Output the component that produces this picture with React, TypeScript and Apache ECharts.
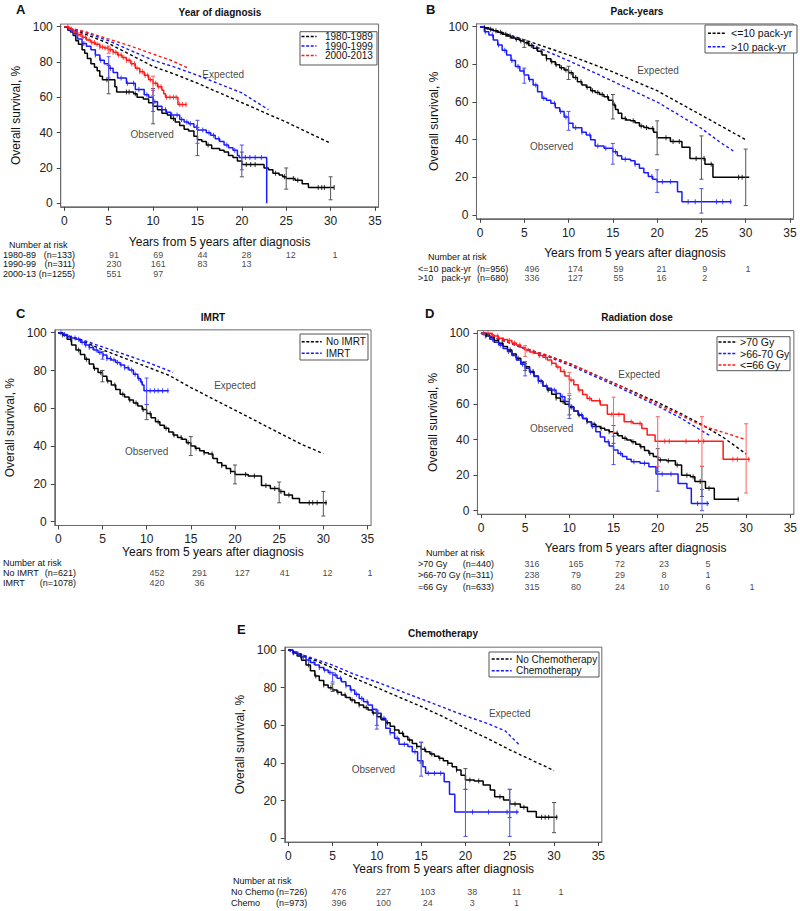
import React, { useEffect, useRef } from "react";
import * as echarts from "echarts";

const FONT = 'Arial, "Liberation Sans", Helvetica, sans-serif';
const BLACK = "#000000";
const BLUE = "#1a1aff";
const RED = "#ff1a1a";
const CI_BLACK = "#555555";
const CI_BLUE = "#5050ff";
const CI_RED = "#ff6060";

const X_TICKS = [0, 5, 10, 15, 20, 25, 30, 35];
const Y_TICKS = [0, 20, 40, 60, 80, 100];
const RISK_COLS = ["5", "10", "15", "20", "25", "30"];
const X_TITLE = "Years from 5 years after diagnosis";
const Y_TITLE = "Overall survival, %";
const X_MIN = -0.4, X_MAX = 35.4, Y_MIN = -2, Y_MAX = 101.5;

// ---------- Panel A: Year of diagnosis ----------
const obsA_80 = [[0,100],[0.4,98],[0.7,97],[1,95],[1.3,92],[1.6,90],[2,87],[2.3,85],[2.6,82],[3,79],[3.4,77],[3.7,75],[4,72],[4.3,70],[5.7,66],[5.9,63],[7.8,62],[8.2,60],[8.9,59],[9.5,57],[10,55],[10.5,53],[11,51],[11.6,50],[12,48],[12.5,46],[13,44],[13.5,42],[14,41],[14.6,38],[15,36],[15.5,35],[16,33],[16.6,31],[17.5,30],[18,29],[18.5,27],[19,26],[19.5,24],[20,22],[22.5,20],[23,19],[23.5,17],[24.2,16],[24.6,15],[25,14],[26,13],[26.8,11],[27.5,9],[30.4,9]];
const obsA_90 = [[0,100],[0.5,98],[1,96],[1.5,93],[2,90.5],[2.5,89],[3,87],[3.5,84],[4,81],[4.5,79],[5,76.5],[5.5,74],[6,71],[7,68],[8,64.5],[9,61.5],[9.5,60],[10,57.5],[10.5,55],[11,53],[11.5,51.5],[12,50],[13,47.5],[13.5,46],[14,45],[14.6,43],[15,41.5],[16,40],[16.5,38.5],[17,36.5],[17.5,35],[18,33],[18.5,31.5],[19,30],[19.5,27],[19.7,26],[22.8,0]];
const obsA_00 = [[0,100],[0.5,98.5],[1,97],[1.5,95.5],[2,94],[2.5,92.5],[3,91],[3.5,90],[4,88.5],[4.5,88],[5,87],[5.5,85.5],[6,84],[6.5,82.5],[7,81],[7.5,79],[8,76.5],[8.5,74.5],[9,72.5],[9.5,70],[10,68],[10.5,66],[11,64],[11.2,62],[11.4,60],[12.8,56],[13.8,56]];
const expA_80 = [[0,100],[2.5,95.5],[5,90.5],[7.5,84],[10,77.5],[12.5,73],[15,68],[17.5,62.5],[20,57],[22.5,51.5],[25,46],[27.5,40],[30,34]];
const expA_90 = [[0,100],[2.5,96.5],[5,92],[7.5,86.5],[10,81],[12.5,77],[15,72.5],[17.5,67.5],[20,62.5],[23,53]];
const expA_00 = [[0,100],[2.5,97],[5,93],[7.5,89],[10,84.5],[12,81],[14,76.5]];
const ciA_80 = [[5,62,78],[10,45,65],[15,27,43],[20,15,29],[25,8,20],[30,2,15]];
const ciA_90 = [[5,71,83],[10,52,64],[15,34,47],[20,19,33]];
const ciA_00 = [[5,85,89],[10,61,72]];
const censA_80 = [4.8,7.0,7.3,8.0,12.3,16.2,20.5,21,21.5,23.8,24.8,25.8,26.3,28.6,29.0,29.3,30.4];
const censA_90 = [1.3,2.2,3.5,4.1,5.2,6.4,7.1,7.8,8.4,9.3,10.2,11.4,12.1,12.7,13.2,13.8,14.2,14.9,15.6,16.3,16.8,17.4,18.3,19.2,20.4,20.9,21.5,22.2];
const censA_00 = [0.4,0.8,1.1,1.5,1.8,2.1,2.4,2.8,3.1,3.4,3.7,4.0,4.3,4.6,4.9,5.2,5.5,5.8,6.1,6.4,6.7,7.0,7.3,7.6,7.9,8.2,8.5,8.8,9.1,9.4,9.7,10.0,10.3,10.6,10.9,11.5,11.9,12.3,12.6,13.0,13.3,13.7];
const rowsA = ["1980-89|(n=133)", "1990-99|(n=311)", "2000-13|(n=1255)"];
const riskA = [[91,69,44,28,12,1],[230,161,83,13],[551,97]];

// ---------- Panel B: Pack-years ----------
const obsB_le = [[0,100],[0.5,99.5],[1,98.6],[1.5,97.8],[2,97],[2.5,96],[3,95],[3.5,94],[4,93.3],[4.5,92.5],[5,91.5],[5.5,90],[6,88.5],[6.5,87],[7,85],[7.5,83],[8,81.4],[8.5,79.8],[9,78.2],[9.5,77],[10,75.6],[10.5,73],[11,70.8],[11.5,69],[12,67.8],[12.5,66],[13,65],[13.5,64],[14,62.8],[14.5,61],[15,58.4],[15.3,56],[15.6,54],[16,51.3],[16.5,50.5],[17,50],[17.5,49],[18,47.3],[18.5,46.5],[19,46],[19.6,44],[20,41],[21.5,39],[22.8,36],[23.7,30],[25.4,27],[26.3,20],[30.4,20]];
const obsB_gt = [[0,100],[0.5,97.3],[1,95.6],[1.5,93],[2,90.3],[2.5,87.5],[3,85],[3.5,82],[4,78.8],[4.5,76.5],[5,74.3],[5.5,72],[6,69],[6.5,65.5],[7,62],[7.5,61],[8,59.3],[8.5,57],[9,54.9],[9.5,52],[10,48.7],[10.5,46.4],[11.5,44],[12,42.5],[12.5,40],[13,36.6],[14,35.4],[15,33.6],[15.5,31.5],[16,29.6],[17,28.8],[17.5,27],[18,24.8],[18.5,22.5],[19,20.4],[19.5,19],[20,17.7],[22.3,12.4],[22.8,7],[28.4,7]];
const expB_le = [[0,100],[2.5,97],[5,93],[7.5,89],[10,85],[12.5,80.5],[15,76],[17.5,71],[20,66],[22.5,59.5],[25,53],[27.5,46.5],[30,40]];
const expB_gt = [[0,100],[2.5,96.5],[5,92],[7.5,87],[10,82],[12.5,76.5],[15,71],[17.5,65.5],[20,60],[22.5,53],[25,46],[27,39],[28.6,34]];
const ciB_le = [[5,89,93],[10,72,79],[15,51,64],[20,32,50],[25,19,42],[30,5,35]];
const ciB_gt = [[5,70,78],[10,45,55],[15,27,38],[20,12,24],[25,1,14]];
const censB_le = [0.5,1.2,1.8,2.3,2.9,3.4,4.1,4.6,5.3,5.8,6.4,6.9,7.5,8.1,8.6,9.2,9.7,10.3,10.8,11.4,12.1,12.7,13.3,13.8,14.4,15.2,16.4,17.3,18.2,18.8,19.5,21.0,21.8,22.5,24.4,25.3,26.1,29.2,29.6];
const censB_gt = [0.6,1.4,2.1,2.8,3.6,4.3,4.9,5.6,6.3,7.2,8.4,9.1,9.7,10.8,11.5,12.4,13.3,14.2,15.3,16.4,17.5,19.4,20.6,21.5,23.5,24.3,26.7,27.4,28.3];
const rowsB = ["<=10|pack-yr|(n=956)", ">10|pack-yr|(n=680)"];
const riskB = [[496,174,59,21,9,1],[336,127,55,16,2]];

// ---------- Panel C: IMRT ----------
const obsC_no = [[0,100],[0.5,98.8],[1,96.5],[1.5,93.5],[2,90.8],[2.5,88.5],[3,86],[3.5,83.5],[4,81],[4.5,79],[5,77],[5.5,74.5],[6,72.3],[6.5,70],[7,67.5],[7.5,66],[8,64.4],[8.5,62.8],[9,61.2],[9.5,59.3],[10,57.3],[10.5,55],[11,52.9],[11.5,51],[12,49.4],[12.5,47.5],[13,45.9],[13.5,44.5],[14,43.6],[14.5,41.8],[15,40],[15.5,38.8],[16,37.6],[16.5,36.5],[17,35.8],[17.5,33.5],[18,31.2],[18.5,29.8],[19,28.2],[19.5,26.5],[20,25],[21.5,24.2],[23,19.2],[24,17.6],[25,16],[25.6,14.1],[26.5,12.3],[27.3,10],[30.4,10]];
const obsC_imrt = [[0,100],[0.5,99],[1,97.9],[1.5,97.2],[2,96.5],[2.5,95],[3,93.5],[3.5,92.2],[4,90.8],[4.5,89.5],[5,88.2],[5.5,86.4],[6,85.5],[6.5,84.2],[7,82.9],[7.5,81.5],[8,80.2],[8.5,78],[9,75.8],[9.3,74],[9.5,72.3],[9.7,69.3],[12.5,69.3]];
const expC_no = [[0,100],[2.5,96],[5,91],[7.5,86.5],[10,82],[12.5,77.5],[15,71],[17.5,65],[20,59],[22.5,53],[25,47],[27.5,41],[30,36]];
const expC_imrt = [[0,100],[2.5,96.5],[5,92.5],[7.5,88.5],[10,84.5],[13,79]];
const ciC_no = [[5,74,80],[10,54,62],[15,35,45],[20,20,30],[25,10,21],[30,3,16]];
const ciC_imrt = [[5,86,90],[10,62,76]];
const censC_no = [0.5,1.4,2.3,3.2,4.1,4.8,5.6,6.4,7.3,8.1,8.8,9.6,10.4,11.3,12.2,13.1,13.9,14.7,15.6,16.5,17.4,18.5,19.5,21.2,22.2,23.5,24.5,25.2,26.1,28.4,28.8,29.3,30.3];
const censC_imrt = [0.3,0.7,1.1,1.5,1.9,2.3,2.7,3.1,3.5,3.9,4.3,4.7,5.1,5.5,5.9,6.3,6.7,7.1,7.5,7.9,8.3,8.7,9.1,9.4,10.0,10.4,10.9,11.3,11.8,12.4];
const rowsC = ["No IMRT|(n=621)", "IMRT|(n=1078)"];
const riskC = [[452,291,127,41,12,1],[420,36]];

// ---------- Panel D: Radiation dose ----------
const obsD_70 = [[0,100],[0.5,99],[1,97.6],[1.5,96],[2,94.4],[2.5,92.5],[3,90.6],[3.5,88.3],[4,85.9],[4.5,83.5],[5,81.2],[5.5,78.5],[6,75.9],[6.5,73],[7,70.3],[7.5,68],[8,65.6],[8.5,63.5],[9,61.5],[9.5,60],[10,58.6],[10.5,56.2],[11,53.9],[11.5,52],[12,50.2],[12.5,48.8],[13,47.4],[13.5,46.5],[14,45.5],[14.5,44.5],[15,43.6],[15.5,42.2],[16,40.8],[16.5,39.8],[17,38.9],[17.5,37.5],[18,36],[18.5,34],[19,32.3],[19.5,30.5],[20,28.6],[21,28.2],[22,25.8],[22.7,20],[23.7,19.2],[24.2,16.4],[25.4,12.6],[26.4,6.4],[29.2,6.4]];
const obsD_6670 = [[0,100],[0.5,98.5],[1,96.6],[1.5,95],[2,93.4],[2.5,91.5],[3,89.7],[3.5,87.5],[4,85],[4.5,82.5],[5,80.3],[5.5,78],[6,75.6],[6.5,73],[7,70.3],[7.5,69],[8,68],[8.5,66],[9,64.3],[9.5,61.5],[10,58.3],[10.5,56],[11,53.9],[11.5,52],[12,50.2],[12.5,47.5],[13,44.5],[13.5,41.5],[14,38.9],[14.5,36.5],[15,34.2],[15.5,32.2],[16,30.5],[16.5,29],[17,27.6],[18,26.7],[19,24.8],[19.8,20.7],[22.3,15.4],[23.3,12.6],[23.8,4.1],[25.8,4.1]];
const obsD_66 = [[0,100],[1.2,99],[1.5,98.5],[2,97.2],[2.5,96.5],[3,95.9],[3.5,94.5],[4,93.4],[4.5,92],[5,90.6],[5.5,89.5],[6,88.7],[6.5,87.5],[7,86.5],[7.5,85],[8,83.1],[8.5,81],[9,78.4],[9.5,76],[10,73.7],[10.5,71],[11,68],[11.5,65.5],[12,63.3],[12.5,62],[13.5,59.6],[14.3,54.3],[16.2,50.2],[17.2,49.2],[18.2,46.4],[18.8,42.7],[19.7,39.2],[27.4,29],[30.4,29]];
const expD_70 = [[0,100],[2.5,96],[5,91.5],[7.5,87.5],[10,83],[12.5,77.5],[15,72],[17.5,66.5],[20,61],[22.5,55],[25,48.5],[27.5,41],[30,32]];
const expD_6670 = [[0,100],[2.5,96],[5,91],[7.5,87],[10,82],[12.5,76.5],[15,71],[17.5,65],[20,59],[22.5,52.5],[25,45],[26,42]];
const expD_66 = [[0,100],[2.5,96],[5,91.5],[7.5,87.5],[10,83],[12.5,77.5],[15,72],[17.5,66],[20,60],[22.5,54],[25,48],[27.5,44],[30,40]];
const ciD_70 = [[5,79,83],[10,54,63],[15,38,48],[20,22,35],[25,8,25]];
const ciD_6670 = [[5,76,84],[10,52,65],[15,26,42],[20,11,30],[25,0,12]];
const ciD_66 = [[5,87,93],[10,66,78],[15,44,64],[20,25,53],[25,25,53],[30,10,49]];
const censD_70 = [0.6,1.5,2.4,3.3,4.2,5.1,5.9,6.8,7.6,8.5,9.3,10.2,11.1,12.0,12.8,13.6,14.5,15.4,16.3,17.2,18.1,19.1,20.3,21.2,22.2,23.3,24.0,24.8,25.8,29.1];
const censD_6670 = [0.5,1.3,2.2,3.1,3.9,4.7,5.6,6.5,7.4,8.3,9.2,10.3,11.4,12.6,14.4,15.8,17.3,18.5,20.5,21.5,24.5,25.6];
const censD_66 = [0.3,0.8,1.3,1.9,2.5,3.2,3.8,4.4,5.2,5.9,6.6,7.3,8.0,8.7,9.4,10.2,11.1,12.3,13.4,14.8,15.6,17.0,18.0,20.8,21.3,23.2,24.6,25.2,28.5,29.0,30.3];
const rowsD = [">70 Gy|(n=440)", ">66-70 Gy|(n=311)", "=66 Gy|(n=633)"];
const riskD = [[316,165,72,23,5],[238,79,29,8,1],[315,80,24,10,6,1]];

// ---------- Panel E: Chemotherapy ----------
const obsE_no = [[0,100],[0.5,98.5],[1,96.8],[1.5,94.5],[2,92],[2.5,89],[3,86.2],[3.5,83.8],[4,81.4],[4.5,80],[5,78.8],[5.5,77.5],[6,76.1],[6.5,74.8],[7,73.5],[7.5,72],[8,70.8],[8.5,69.5],[9,68.1],[9.5,66.5],[10,64.6],[10.5,63],[11,61.4],[11.5,59.5],[12,57.5],[12.5,55.8],[13,54],[13.5,52.2],[14,50.4],[14.5,48.8],[15,47.3],[15.5,46],[16,44.8],[16.5,43.6],[17,42.5],[17.5,41.2],[18,39.8],[18.5,38],[19,36.3],[19.5,33.5],[20,31],[21,30.4],[22,28.3],[22.8,25.7],[23.3,22.1],[24.3,20.4],[25,18.2],[26.2,16.5],[27,14.2],[28,11.2],[30.4,11.2]];
const obsE_ch = [[0,100],[0.5,99],[1,97.9],[1.5,96.3],[2,94.7],[2.5,93.3],[3,92],[3.5,90.7],[4,89.4],[4.5,88],[5,86.7],[5.5,85],[6,83.2],[6.5,81],[7,78.8],[7.5,76.5],[8,74.3],[8.5,72.5],[9,70.8],[9.5,68.5],[10,66.4],[10.5,63.7],[11,58.4],[11.5,56],[12,53.1],[12.5,49.9],[13.5,48.7],[14,46],[14.6,41.2],[15.2,38],[15.5,34.5],[17.6,30],[18.2,23.4],[18.8,14],[26,14]];
const expE_no = [[0,100],[2.5,95.5],[5,90.5],[7.5,85],[10,80],[12.5,75],[15,70],[17.5,64.5],[20,58.5],[22.5,53],[25,47],[27.5,41.5],[30,36]];
const expE_ch = [[0,100],[2.5,96],[5,92],[7.5,87],[10,83],[12.5,78.5],[15,74],[17.5,69.5],[20,65],[22.5,61],[24.5,57],[26,50]];
const ciE_no = [[5,78,82],[10,60,67],[15,40,51],[20,26,37],[25,11,26],[30,3,19]];
const ciE_ch = [[5,83,88],[10,58,68],[15,33,51],[20,1,26],[25,1,26]];
const censE_no = [0.6,1.4,2.3,3.1,4.0,4.8,5.6,6.4,7.2,8.0,8.8,9.6,10.4,11.2,12.0,12.9,13.7,14.5,15.4,16.2,17.1,18.0,19.0,20.5,21.5,23.9,25.6,26.6,28.6,29.0,29.4,30.3];
const censE_ch = [0.5,1.1,1.7,2.3,2.9,3.5,4.1,4.7,5.3,5.9,6.5,7.1,7.7,8.3,8.9,9.5,10.1,10.8,11.5,12.3,13.1,14.3,15.8,16.5,17.2,20.8,22.6,24.7,25.8];
const rowsE = ["No Chemo|(n=726)", "Chemo|(n=973)"];
const riskE = [[476,227,103,38,11,1],[396,100,24,3,1]];

// annotation label anchors (data coordinates)
const annA = { exp: [17.9, 73.2], obs: [9.9, 39] };
const annB = { exp: [20.1, 76.5], obs: [8.1, 36.6] };
const annC = { exp: [20, 71.8], obs: [10, 36.9] };
const annD = { exp: [17.9, 76.5], obs: [8, 46.6] };
const annE = { exp: [25, 66.5], obs: [9.6, 36.8] };

const PANELS = [
  { letter: "A", title: "Year of diagnosis", ann: annA, rows: rowsA, risk: riskA, groups: [
    { name: "1980-1989", color: BLACK, ci: CI_BLACK, obs: obsA_80, exp: expA_80, bars: ciA_80, cens: censA_80 },
    { name: "1990-1999", color: BLUE, ci: CI_BLUE, obs: obsA_90, exp: expA_90, bars: ciA_90, cens: censA_90 },
    { name: "2000-2013", color: RED, ci: CI_RED, obs: obsA_00, exp: expA_00, bars: ciA_00, cens: censA_00 },
  ] },
  { letter: "B", title: "Pack-years", ann: annB, rows: rowsB, risk: riskB, groups: [
    { name: "<=10 pack-yr", color: BLACK, ci: CI_BLACK, obs: obsB_le, exp: expB_le, bars: ciB_le, cens: censB_le },
    { name: ">10 pack-yr", color: BLUE, ci: CI_BLUE, obs: obsB_gt, exp: expB_gt, bars: ciB_gt, cens: censB_gt },
  ] },
  { letter: "C", title: "IMRT", ann: annC, rows: rowsC, risk: riskC, groups: [
    { name: "No IMRT", color: BLACK, ci: CI_BLACK, obs: obsC_no, exp: expC_no, bars: ciC_no, cens: censC_no },
    { name: "IMRT", color: BLUE, ci: CI_BLUE, obs: obsC_imrt, exp: expC_imrt, bars: ciC_imrt, cens: censC_imrt },
  ] },
  { letter: "D", title: "Radiation dose", ann: annD, rows: rowsD, risk: riskD, groups: [
    { name: ">70 Gy", color: BLACK, ci: CI_BLACK, obs: obsD_70, exp: expD_70, bars: ciD_70, cens: censD_70 },
    { name: ">66-70 Gy", color: BLUE, ci: CI_BLUE, obs: obsD_6670, exp: expD_6670, bars: ciD_6670, cens: censD_6670 },
    { name: "<=66 Gy", color: RED, ci: CI_RED, obs: obsD_66, exp: expD_66, bars: ciD_66, cens: censD_66 },
  ] },
  { letter: "E", title: "Chemotherapy", ann: annE, rows: rowsE, risk: riskE, groups: [
    { name: "No Chemotherapy", color: BLACK, ci: CI_BLACK, obs: obsE_no, exp: expE_no, bars: ciE_no, cens: censE_no },
    { name: "Chemotherapy", color: BLUE, ci: CI_BLUE, obs: obsE_ch, exp: expE_ch, bars: ciE_ch, cens: censE_ch },
  ] },
];

// layout (pixels)
const LAYOUT = [
  { x0: 64.3, x35: 375, y0: 203.3, y100: 26.7, xGap: 29.5, yGap: 38.5, letter: [16, 9], title: [220, 12.5],
    legend: { box: [300, 31.7, 77, 33.3], rows: [36.5, 46, 55.5], dash: [301.5, 316.5], textX: 325, fontSize: 10 },
    table: { c0: 114, c1: 335, r0: 254.5, step: 9.5, labelX: 3, nar: [9, 245] },
    rich: [{ width: 35, align: "left" }, { width: 37, align: "right" }] },
  { x0: 480, x35: 790, y0: 215, y100: 26.7, xGap: 28.5, yGap: 36.5, letter: [426, 9], title: [637, 11.5],
    legend: { box: [705, 25, 92, 28], rows: [33.3, 46.7], dash: [708, 725], textX: 731, fontSize: 10.5 },
    table: { c0: 532, c1: 748, r0: 269, step: 9.3, labelX: 418, nar: [428, 257] },
    rich: [{ width: 23.5, align: "left" }, { width: 35.5, align: "left" }, { width: 35, align: "left" }] },
  { x0: 58.3, x35: 367.5, y0: 521.7, y100: 332.7, xGap: 20, yGap: 38.5, letter: [16, 313.5], title: [213, 317],
    legend: { box: [300, 334, 68, 26], rows: [341.7, 353.3], dash: [301.7, 321.7], textX: 326, fontSize: 10 },
    table: { c0: 157, c1: 370, r0: 573.3, step: 9.4, labelX: 3, nar: [3, 562.7] },
    rich: [{ width: 38, align: "left" }, { width: 35, align: "right" }] },
  { x0: 481, x35: 793, y0: 510.7, y100: 333.3, xGap: 27.8, yGap: 38, letter: [425, 313.5], title: [637, 317],
    legend: { box: [717, 336.7, 73, 34], rows: [342, 353.5, 365], dash: [718.5, 737], textX: 740, fontSize: 10.5 },
    table: { c0: 532, c1: 752, r0: 564, step: 11.3, labelX: 418, nar: [426, 552.7] },
    rich: [{ width: 44.7, align: "left" }, { width: 35, align: "left" }] },
  { x0: 288.3, x35: 598.3, y0: 838.3, y100: 650, xGap: 19, yGap: 38.8, letter: [237, 629.5], title: [443, 633],
    legend: { box: [489, 652, 110, 25], rows: [659, 670.7], dash: [491.7, 511.7], textX: 516, fontSize: 10 },
    table: { c0: 339, c1: 561, r0: 892.3, step: 11, labelX: 231, nar: [233, 880.7] },
    rich: [{ width: 45, align: "left" }, { width: 35, align: "left" }] },
];

function stepAt(curve: number[][], t: number) {
  let v = curve[0][1];
  for (const p of curve) {
    if (p[0] <= t) v = p[1];
    else break;
  }
  return v;
}

function txt(text: string, x: number, y: number, size: number, bold: boolean, align: string) {
  return {
    type: "text", x, y, silent: true, z: 10,
    style: {
      text, fill: "#111", fontSize: size, fontWeight: bold ? "bold" : "normal", fontFamily: FONT,
      align, textAlign: align, verticalAlign: "middle", textVerticalAlign: "middle",
    },
  };
}

function buildOption() {
  const grid: any[] = [], xAxis: any[] = [], yAxis: any[] = [], series: any[] = [], graphic: any[] = [];
  const n = PANELS.length;
  PANELS.forEach((p, i) => {
    const L = LAYOUT[i];
    const sx = (L.x35 - L.x0) / 35, sy = (L.y0 - L.y100) / 100;
    grid.push({
      left: L.x0 + X_MIN * sx, top: L.y100 - (Y_MAX - 100) * sy,
      width: (X_MAX - X_MIN) * sx, height: (Y_MAX - Y_MIN) * sy,
      show: true, borderColor: "#6a6a6a", borderWidth: 1, containLabel: false,
    });
    xAxis.push({
      type: "value", gridIndex: i, min: X_MIN, max: X_MAX,
      name: X_TITLE, nameLocation: "middle", nameGap: L.xGap,
      nameTextStyle: { fontSize: 12, color: "#111", fontFamily: FONT },
      axisLine: { show: true, onZero: false, lineStyle: { color: "#6a6a6a", width: 1 } },
      axisTick: { show: true, length: 4, customValues: X_TICKS, lineStyle: { color: "#444" } },
      axisLabel: { customValues: X_TICKS, fontSize: 12, color: "#222", margin: 8, fontFamily: FONT },
      splitLine: { show: false },
    });
    yAxis.push({
      type: "value", gridIndex: i, min: Y_MIN, max: Y_MAX,
      name: Y_TITLE, nameLocation: "middle", nameGap: L.yGap, nameRotate: 90,
      nameTextStyle: { fontSize: 12, color: "#111", fontFamily: FONT },
      axisLine: { show: true, onZero: false, lineStyle: { color: "#6a6a6a", width: 1 } },
      axisTick: { show: true, length: 4, customValues: Y_TICKS, lineStyle: { color: "#444" } },
      axisLabel: { customValues: Y_TICKS, fontSize: 12, color: "#222", margin: 8, fontFamily: FONT },
      splitLine: { show: false },
    });

    // curves
    p.groups.forEach((g) => {
      series.push({
        type: "line", name: g.name, xAxisIndex: i, yAxisIndex: i, data: g.exp, symbol: "none",
        lineStyle: { color: g.color, width: 1.4, type: [3, 2.5] }, itemStyle: { color: g.color }, z: 3, silent: true,
      });
      series.push({
        type: "line", name: g.name + " observed", xAxisIndex: i, yAxisIndex: i, data: g.obs, step: "end", symbol: "none",
        lineStyle: { color: g.color, width: 1.5 }, itemStyle: { color: g.color }, z: 4, silent: true,
      });
      series.push({
        type: "scatter", name: g.name + " censored", xAxisIndex: i, yAxisIndex: i,
        data: g.cens.map((t) => [t, stepAt(g.obs, t)]), symbol: "rect", symbolSize: [1, 5],
        itemStyle: { color: g.color }, z: 4, silent: true,
      });
      const barColor = g.ci;
      series.push({
        type: "custom", name: g.name + " CI", xAxisIndex: i, yAxisIndex: i, data: g.bars, z: 5, silent: true,
        encode: { x: 0, y: [1, 2] },
        renderItem: (params: any, api: any) => {
          const x = api.value(0), lo = api.value(1), hi = api.value(2);
          const a = api.coord([x, lo]), b = api.coord([x, hi]);
          const st = { stroke: barColor, lineWidth: 1 };
          return {
            type: "group", children: [
              { type: "line", shape: { x1: a[0], y1: a[1], x2: b[0], y2: b[1] }, style: st },
              { type: "line", shape: { x1: a[0] - 2, y1: a[1], x2: a[0] + 2, y2: a[1] }, style: st },
              { type: "line", shape: { x1: b[0] - 2, y1: b[1], x2: b[0] + 2, y2: b[1] }, style: st },
            ],
          };
        },
      });
    });

    // annotations
    series.push({
      type: "scatter", xAxisIndex: i, yAxisIndex: i, symbolSize: 0.1, itemStyle: { color: "transparent" }, z: 6, silent: true,
      data: [{ name: "Expected", value: p.ann.exp }, { name: "Observed", value: p.ann.obs }],
      label: { show: true, position: "inside", formatter: (d: any) => d.name, fontSize: 10, color: "#111", fontFamily: FONT },
    });

    // legend box (drawn as graphic elements)
    const LG = L.legend;
    graphic.push({
      type: "rect", silent: true, z: 8,
      shape: { x: LG.box[0], y: LG.box[1], width: LG.box[2], height: LG.box[3] },
      style: { fill: "#ffffff", stroke: "#555555", lineWidth: 1 },
    });
    p.groups.forEach((g, k) => {
      const y = LG.rows[k];
      graphic.push({
        type: "line", silent: true, z: 9,
        shape: { x1: LG.dash[0], y1: y, x2: LG.dash[1], y2: y },
        style: { stroke: g.color, lineWidth: 1.4, lineDash: [3, 1.6] },
      });
      graphic.push(txt(g.name, LG.textX, y, LG.fontSize, false, "left"));
    });

    // texts
    graphic.push(txt(p.letter, L.letter[0], L.letter[1], 13, true, "left"));
    graphic.push(txt(p.title, L.title[0], L.title[1], 10, true, "center"));
    graphic.push(txt("Number at risk", L.table.nar[0], L.table.nar[1], 9, false, "left"));
  });

  // tables
  PANELS.forEach((p, i) => {
    const L = LAYOUT[i];
    const T = L.table;
    const gi = n + i;
    grid.push({ left: T.c0, width: T.c1 - T.c0, top: T.r0 - T.step / 2, height: T.step * p.rows.length, show: false, containLabel: false });
    xAxis.push({ type: "category", gridIndex: gi, data: RISK_COLS, boundaryGap: false, show: false });
    const rich: any = {};
    L.rich.forEach((r, k) => {
      rich["c" + k] = { width: r.width, align: r.align, fontSize: 9, color: "#111", fontFamily: FONT };
    });
    yAxis.push({
      type: "category", gridIndex: gi, data: p.rows, inverse: true, boundaryGap: true,
      axisLine: { show: false }, axisTick: { show: false }, splitLine: { show: false },
      axisLabel: {
        show: true, interval: 0, align: "left", margin: T.c0 - T.labelX, fontSize: 9, color: "#111", fontFamily: FONT,
        formatter: (v: string) => v.split("|").map((s, k) => "{c" + k + "|" + s + "}").join(""),
        rich,
      },
    });
    const data: any[] = [];
    p.risk.forEach((row, r) => row.forEach((v, c) => data.push([c, r, v])));
    series.push({
      type: "scatter", xAxisIndex: gi, yAxisIndex: gi, data, symbolSize: 0.1, itemStyle: { color: "transparent" }, silent: true,
      label: { show: true, position: "inside", formatter: (d: any) => String(d.value[2]), fontSize: 9, color: "#111", fontFamily: FONT },
    });
  });

  return {
    animation: false,
    backgroundColor: "#ffffff",
    textStyle: { fontFamily: FONT },
    grid, xAxis, yAxis, series, graphic,
  };
}

export default function App() {
  const ref = useRef<HTMLDivElement>(null);
  useEffect(() => {
    document.body.style.margin = "0";
    if (!ref.current) return;
    const chart = echarts.init(ref.current, undefined, { renderer: "svg" });
    chart.setOption(buildOption() as any);
    return () => chart.dispose();
  }, []);
  return <div ref={ref} style={{ width: 800, height: 911 }} />;
}
